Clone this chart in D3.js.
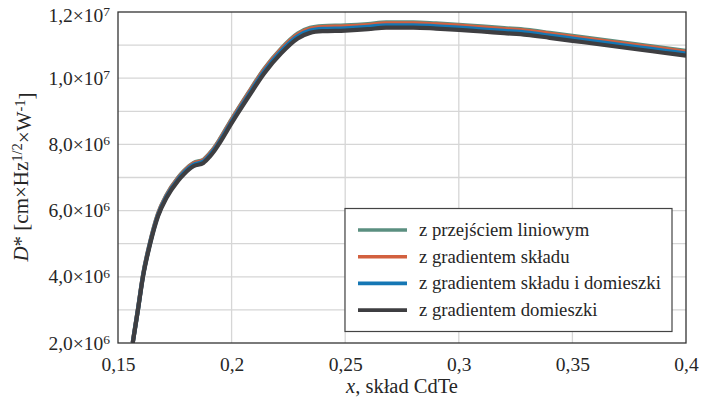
<!DOCTYPE html>
<html>
<head>
<meta charset="utf-8">
<script src="https://cdn.jsdelivr.net/npm/d3@7"></script>
<style>
  body { margin: 0; background: #fff; }
  svg { display: block; }
  text, tspan { font-family: "Liberation Serif", "Times New Roman", serif; fill: #262626; }
</style>
</head>
<body>
<svg id="chart" width="701" height="402"></svg>
<script>
// ---- data ----
const xValues = [0.1565, 0.1588, 0.161, 0.164, 0.1676, 0.1713, 0.1764, 0.179, 0.1832, 0.1876,
  0.1904, 0.1926, 0.195, 0.2, 0.207, 0.2144, 0.2218, 0.2291, 0.2345, 0.24,
  0.25, 0.26, 0.268, 0.28, 0.29, 0.30, 0.31, 0.32, 0.33, 0.34,
  0.35, 0.36, 0.37, 0.38, 0.39, 0.40];

// values in units of 1e6 cm·Hz^1/2·W^-1
const przejsciemLiniowym = [2.027, 3.040, 4.054, 5.017, 5.909, 6.466, 6.993, 7.196, 7.439, 7.540,
  7.733, 7.926, 8.179, 8.757, 9.517, 10.287, 10.895, 11.351, 11.523, 11.574,
  11.594, 11.635, 11.686, 11.686, 11.655, 11.615, 11.564, 11.513, 11.463, 11.371,
  11.280, 11.189, 11.098, 11.007, 10.915, 10.824];
const gradientemSkladu = [2.022, 3.033, 4.044, 5.004, 5.894, 6.450, 6.976, 7.178, 7.421, 7.522,
  7.714, 7.906, 8.159, 8.735, 9.493, 10.262, 10.868, 11.323, 11.495, 11.546,
  11.566, 11.606, 11.657, 11.657, 11.627, 11.586, 11.536, 11.485, 11.434, 11.343,
  11.252, 11.161, 11.070, 10.979, 10.888, 10.797];
const gradientemSkladuIDomieszki = [2.012, 3.018, 4.024, 4.980, 5.865, 6.418, 6.941, 7.143, 7.384, 7.485,
  7.676, 7.867, 8.118, 8.692, 9.446, 10.211, 10.815, 11.267, 11.438, 11.489,
  11.509, 11.549, 11.599, 11.599, 11.569, 11.529, 11.478, 11.428, 11.378, 11.287,
  11.197, 11.106, 11.016, 10.925, 10.835, 10.744];
const gradientemDomieszki = [2.00, 3.00, 4.00, 4.95, 5.83, 6.38, 6.90, 7.10, 7.34, 7.44,
  7.63, 7.82, 8.07, 8.64, 9.39, 10.15, 10.75, 11.20, 11.37, 11.42,
  11.44, 11.48, 11.53, 11.53, 11.50, 11.46, 11.41, 11.36, 11.31, 11.22,
  11.13, 11.04, 10.95, 10.86, 10.77, 10.68];

const seriesNames = ["z przejściem liniowym", "z gradientem składu",
  "z gradientem składu i domieszki", "z gradientem domieszki"];
const seriesColors = ["#5b8f80", "#d2603f", "#1577b4", "#3e3e41"];

const xTickValues = [0.15, 0.2, 0.25, 0.3, 0.35, 0.4];
const xTickLabels = ["0,15", "0,2", "0,25", "0,3", "0,35", "0,4"];
const yTickValues = [2e6, 4e6, 6e6, 8e6, 1e7, 1.2e7];
const yTickMantissas = ["2,0", "4,0", "6,0", "8,0", "1,0", "1,2"];
const yTickExponents = ["6", "6", "6", "6", "7", "7"];
const yGridValues = [3e6, 4e6, 5e6, 6e6, 7e6, 8e6, 9e6, 1e7, 1.1e7];
const xGridValues = [0.2, 0.25, 0.3, 0.35];

// ---- layout ----
const svg = d3.select("#chart");
const pL = 118, pR = 686, pT = 12, pB = 343;
const x = d3.scaleLinear().domain([0.15, 0.4]).range([pL, pR]);
const y = d3.scaleLinear().domain([2e6, 1.2e7]).range([pB, pT]);

svg.append("defs").append("clipPath").attr("id", "clip")
  .append("rect").attr("x", pL).attr("y", pT)
  .attr("width", pR - pL).attr("height", pB - pT);

// grid
svg.append("g").selectAll("line").data(yGridValues).join("line")
  .attr("x1", pL).attr("x2", pR)
  .attr("y1", d => y(d)).attr("y2", d => y(d))
  .attr("stroke", "#d6d6d6").attr("stroke-width", 1.3);
svg.append("g").selectAll("line").data(xGridValues).join("line")
  .attr("y1", pT).attr("y2", pB)
  .attr("x1", d => x(d)).attr("x2", d => x(d))
  .attr("stroke", "#d6d6d6").attr("stroke-width", 1.3);

// series
const allSeries = [przejsciemLiniowym, gradientemSkladu, gradientemSkladuIDomieszki, gradientemDomieszki];
const line = d3.line()
  .x((d, i) => x(xValues[i]))
  .y(d => y(d * 1e6))
  .curve(d3.curveMonotoneX);
const lines = svg.append("g").attr("clip-path", "url(#clip)");
allSeries.forEach((s, k) => {
  lines.append("path").datum(s)
    .attr("d", line)
    .attr("fill", "none")
    .attr("stroke", seriesColors[k])
    .attr("stroke-width", 4.2)
    .attr("stroke-linejoin", "round")
    .attr("stroke-linecap", "butt");
});

// frame
svg.append("rect").attr("x", pL).attr("y", pT)
  .attr("width", pR - pL).attr("height", pB - pT)
  .attr("fill", "none").attr("stroke", "#333").attr("stroke-width", 1.3);

// axes (labels only)
const xAxis = d3.axisBottom(x).tickValues(xTickValues).tickSize(0)
  .tickFormat((d, i) => xTickLabels[i]);
const gx = svg.append("g").attr("transform", `translate(0,${pB})`).call(xAxis)
  .attr("font-family", null).attr("font-size", null);
gx.select(".domain").remove();
gx.selectAll("text").attr("dy", null).attr("y", 28)
  .style("font-size", "19.5px");

const yAxis = d3.axisLeft(y).tickValues(yTickValues).tickSize(0).tickFormat("");
const gy = svg.append("g").attr("transform", `translate(${pL},0)`).call(yAxis)
  .attr("font-family", null).attr("font-size", null);
gy.select(".domain").remove();
gy.selectAll(".tick text").each(function (d, i) {
  const t = d3.select(this);
  t.attr("x", -8).attr("dy", null).attr("y", i === yTickValues.length - 1 ? 9 : 6)
    .style("font-size", "19.5px");
  t.append("tspan").text(yTickMantissas[i] + "×10");
  t.append("tspan").attr("dy", "-0.42em").style("font-size", "13.5px").text(yTickExponents[i]);
});

// axis titles
const yTitle = svg.append("text")
  .attr("transform", `translate(28,177) rotate(-90)`)
  .attr("text-anchor", "middle")
  .style("font-size", "21px");
yTitle.append("tspan").style("font-style", "italic").text("D");
yTitle.append("tspan").text("* [cm×Hz");
yTitle.append("tspan").attr("dy", "-0.42em").style("font-size", "14.5px").text("1/2");
yTitle.append("tspan").attr("dy", "0.42em").text("×W");
yTitle.append("tspan").attr("dy", "-0.42em").style("font-size", "14.5px").text("-1");
yTitle.append("tspan").attr("dy", "0.42em").text("]");

const xTitle = svg.append("text")
  .attr("x", (pL + pR) / 2).attr("y", 393)
  .attr("text-anchor", "middle")
  .style("font-size", "20.5px");
xTitle.append("tspan").style("font-style", "italic").text("x");
xTitle.append("tspan").text(", skład CdTe");

// legend
const lg = svg.append("g");
lg.append("rect").attr("x", 345).attr("y", 208.5).attr("width", 327).attr("height", 123)
  .attr("fill", "#fff").attr("stroke", "#444").attr("stroke-width", 1.2);
seriesNames.forEach((name, k) => {
  const yy = 230 + k * 26.7;
  lg.append("line").attr("x1", 358).attr("x2", 407).attr("y1", yy).attr("y2", yy)
    .attr("stroke", seriesColors[k]).attr("stroke-width", 3.6);
  lg.append("text").attr("x", 419).attr("y", yy + 6)
    .style("font-size", "18.7px").text(name);
});
</script>
</body>
</html>
